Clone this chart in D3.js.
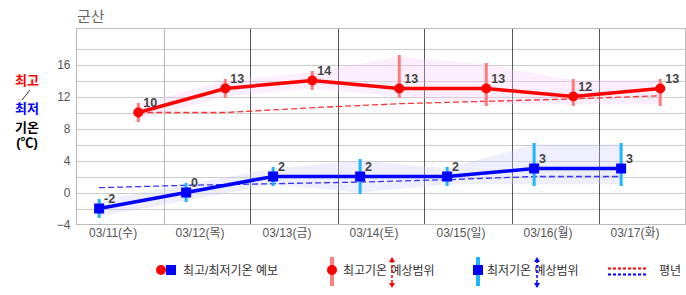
<!DOCTYPE html>
<html>
<head>
<meta charset="utf-8">
<script src="https://cdn.jsdelivr.net/npm/d3@7"></script>
<style>
  body { margin: 0; background: #fff; }
  svg { display: block; font-family: "Liberation Sans", "Noto Sans CJK KR", sans-serif; }
</style>
</head>
<body>
<div id="chart"></div>
<script>
const days = ["03/11(수)", "03/12(목)", "03/13(금)", "03/14(토)", "03/15(일)", "03/16(월)", "03/17(화)"]
const maxTemp = [10, 13, 14, 13, 13, 12, 13]
const minTemp = [-2, 0, 2, 2, 2, 3, 3]
const maxLow = [9, 12, 13, 12, 11, 11, 11]
const maxHigh = [11, 14, 15, 17, 16, 14, 14]
const minLow = [-3, -1, 1, 0, 1, 1, 1]
const minHigh = [-1, 1, 3, 4, 3, 6, 6]
const normMax = [10.0, 10.0, 10.6, 11.1, 11.4, 11.7, 12.1]
const normMin = [0.6, 0.9, 1.1, 1.3, 1.6, 2.0, 2.0]
const yTicks = [-4, 0, 4, 8, 12, 16]

const WIDTH = 686, HEIGHT = 295
const PLOT = { LEFT: 76.5, RIGHT: 685.5, TOP: 28.5, BOTTOM: 224.5 }
// time of day (fraction of day) where the marks sit
const MAX_T = 0.71, MIN_T = 0.26, LABEL_T = 0.42

const svg = d3.select("#chart").append("svg")
  .attr("width", WIDTH).attr("height", HEIGHT)

const x = d3.scaleLinear().domain([0, 7]).range([PLOT.LEFT, PLOT.RIGHT])
const y = d3.scaleLinear().domain([-4, 20.5]).range([PLOT.BOTTOM, PLOT.TOP])

// title
svg.append("text").attr("x", 77).attr("y", 22)
  .attr("font-size", 15).attr("fill", "#666").text("군산")

// horizontal grid
svg.append("g").selectAll("line")
  .data(d3.range(-2, 19, 2))
  .join("line")
    .attr("x1", PLOT.LEFT).attr("x2", PLOT.RIGHT)
    .attr("y1", d => Math.round(y(d)) + 0.5).attr("y2", d => Math.round(y(d)) + 0.5)
    .attr("stroke", "#cccccc")

// vertical grid (day boundaries)
svg.append("g").selectAll("line")
  .data(d3.range(1, 7))
  .join("line")
    .attr("x1", d => Math.round(x(d)) + 0.5).attr("x2", d => Math.round(x(d)) + 0.5)
    .attr("y1", PLOT.TOP).attr("y2", PLOT.BOTTOM)
    .attr("stroke", d => d === 1 ? "#bbbbbb" : "#555555")

// frame
svg.append("rect")
  .attr("x", PLOT.LEFT).attr("y", PLOT.TOP)
  .attr("width", PLOT.RIGHT - PLOT.LEFT).attr("height", PLOT.BOTTOM - PLOT.TOP)
  .attr("fill", "none").attr("stroke", "#bbbbbb")

// y axis labels
const yAxis = d3.axisLeft(y).tickValues(yTicks).tickSize(0).tickPadding(6)
svg.append("g")
  .attr("transform", `translate(${PLOT.LEFT}, 0)`)
  .call(yAxis)
  .call(g => g.select(".domain").remove())
  .call(g => g.selectAll("text").attr("font-size", 12).attr("fill", "#555")
    .attr("font-family", "Liberation Sans, sans-serif"))

// x labels
svg.append("g").selectAll("text")
  .data(days)
  .join("text")
    .attr("x", (d, i) => x(i + LABEL_T))
    .attr("y", 237)
    .attr("text-anchor", "middle")
    .attr("font-size", 12).attr("fill", "#555")
    .text(d => d)

// left caption
const cap = svg.append("g").attr("font-size", 13).attr("font-weight", "bold").attr("text-anchor", "middle")
cap.append("text").attr("x", 27).attr("y", 85).attr("fill", "#ff0000").text("최고")
cap.append("line").attr("x1", 22).attr("y1", 100).attr("x2", 30).attr("y2", 90).attr("stroke", "#000").attr("stroke-width", 0.8)
cap.append("text").attr("x", 27).attr("y", 113).attr("fill", "#0000ff").text("최저")
cap.append("text").attr("x", 27).attr("y", 132).attr("fill", "#000").text("기온")
cap.append("text").attr("x", 27).attr("y", 147).attr("fill", "#000").text("(℃)")

function drawSeries(vals, lows, highs, norms, t, opt) {
  const pts = vals.map((v, i) => ({ i, v, lo: lows[i], hi: highs[i], n: norms[i] }))
  const g = svg.append("g")

  const area = d3.area()
    .x(d => x(d.i + t))
    .y0(d => y(d.lo))
    .y1(d => y(d.hi))
  g.append("path").datum(pts).attr("d", area).attr("fill", opt.shade)

  const normLine = d3.line().x(d => x(d.i + t)).y(d => y(d.n))
  g.append("path").datum(pts).attr("d", normLine)
    .attr("fill", "none").attr("stroke", opt.norm).attr("stroke-width", 1.3)
    .attr("stroke-dasharray", "6,3")

  g.selectAll(".range").data(pts).join("line")
    .attr("x1", d => x(d.i + t)).attr("x2", d => x(d.i + t))
    .attr("y1", d => y(d.lo)).attr("y2", d => y(d.hi))
    .attr("stroke", opt.bar).attr("stroke-width", 3).attr("stroke-linecap", "square")

  const line = d3.line().x(d => x(d.i + t)).y(d => y(d.v))
  g.append("path").datum(pts).attr("d", line)
    .attr("fill", "none").attr("stroke", opt.color).attr("stroke-width", 3.5)

  if (opt.square) {
    g.selectAll(".mk").data(pts).join("rect")
      .attr("x", d => x(d.i + t) - 5).attr("y", d => y(d.v) - 5)
      .attr("width", 10).attr("height", 10).attr("fill", opt.color)
  } else {
    g.selectAll(".mk").data(pts).join("circle")
      .attr("cx", d => x(d.i + t)).attr("cy", d => y(d.v))
      .attr("r", 5).attr("fill", opt.color)
  }

  g.selectAll(".lbl").data(pts).join("text")
    .attr("x", d => x(d.i + t) + 5).attr("y", d => y(d.v) - 6)
    .attr("font-size", 12.5).attr("font-weight", "bold").attr("fill", "#444")
    .text(d => d.v)
}

drawSeries(maxTemp, maxLow, maxHigh, normMax, MAX_T,
  { color: "#ff0000", bar: "#ff7b7b", shade: "rgba(245, 200, 245, 0.3)", norm: "#ff3333", square: false })
drawSeries(minTemp, minLow, minHigh, normMin, MIN_T,
  { color: "#0000ff", bar: "#1eb4ff", shade: "rgba(200, 200, 245, 0.3)", norm: "#3333ff", square: true })

// legend
const lg = svg.append("g").attr("font-size", 12).attr("fill", "#333")
const LY = 271

function arrow(xp, color) {
  lg.append("line").attr("x1", xp).attr("x2", xp).attr("y1", 260).attr("y2", 285)
    .attr("stroke", color).attr("stroke-width", 1.5).attr("stroke-dasharray", "3,2")
  lg.append("path").attr("d", `M${xp - 3},262 L${xp},257 L${xp + 3},262 Z`).attr("fill", color)
  lg.append("path").attr("d", `M${xp - 3},283 L${xp},288 L${xp + 3},283 Z`).attr("fill", color)
}

lg.append("circle").attr("cx", 161).attr("cy", LY - 1).attr("r", 5).attr("fill", "#ff0000")
lg.append("rect").attr("x", 166).attr("y", LY - 6).attr("width", 10).attr("height", 10).attr("fill", "#0000ff")
lg.append("text").attr("x", 183).attr("y", LY + 4).text("최고/최저기온 예보")

lg.append("line").attr("x1", 332).attr("x2", 332).attr("y1", 257).attr("y2", 286)
  .attr("stroke", "#ff8080").attr("stroke-width", 4)
lg.append("circle").attr("cx", 332).attr("cy", LY - 1).attr("r", 5).attr("fill", "#ff0000")
lg.append("text").attr("x", 343).attr("y", LY + 4).text("최고기온 예상범위")
arrow(392, "#ff0000")

lg.append("line").attr("x1", 478).attr("x2", 478).attr("y1", 257).attr("y2", 286)
  .attr("stroke", "#1eb4ff").attr("stroke-width", 4)
lg.append("rect").attr("x", 473).attr("y", LY - 6).attr("width", 10).attr("height", 10).attr("fill", "#0000ff")
lg.append("text").attr("x", 487).attr("y", LY + 4).text("최저기온 예상범위")
arrow(537, "#0000ff")

lg.append("line").attr("x1", 608).attr("x2", 647).attr("y1", 268.5).attr("y2", 268.5)
  .attr("stroke", "#ff0000").attr("stroke-width", 2).attr("stroke-dasharray", "3,2")
lg.append("line").attr("x1", 608).attr("x2", 647).attr("y1", 274.5).attr("y2", 274.5)
  .attr("stroke", "#0000ff").attr("stroke-width", 2).attr("stroke-dasharray", "3,2")
lg.append("text").attr("x", 659).attr("y", LY + 4).text("평년")
</script>
</body>
</html>
